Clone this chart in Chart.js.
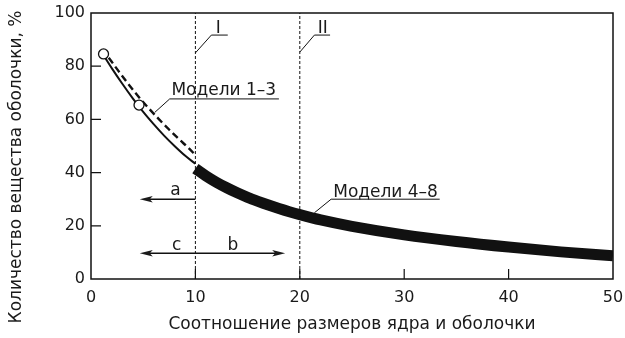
<!DOCTYPE html>
<html>
<head>
<meta charset="utf-8">
<script src="https://cdn.jsdelivr.net/npm/chart.js@4"></script>
<style>
  html, body { margin: 0; padding: 0; background: #fff; }
  #wrap { width: 625px; height: 338px; }
</style>
</head>
<body>
<div id="wrap"><canvas id="c"></canvas></div>
<script>
// Axis ticks
const xTicks = [0, 10, 20, 30, 40, 50];
const yTicks = [0, 20, 40, 60, 80, 100];

// Models 4–8: thick curve
const thickX = [10, 11, 12, 13, 14, 15, 16, 17, 18, 19, 20, 22, 25, 30, 35, 40, 45, 50];
const thickY = [41.5, 38.8, 36.4, 34.3, 32.4, 30.7, 29.2, 27.8, 26.5, 25.3, 24.2, 22.2, 19.8, 16.6, 14.1, 12.0, 10.2, 8.7];

// Models 1–3: solid and dashed curves
const solidX = [1.3, 2, 3, 4, 5, 6, 7, 8, 9, 10];
const solidY = [83.5, 79.2, 73.4, 67.9, 62.8, 58.2, 53.9, 50.0, 46.4, 43.3];
const dashX = [1.7, 2.5, 3.5, 4.5, 5.5, 6.5, 7.5, 8.5, 9.3, 10];
const dashY = [83.2, 78.9, 73.7, 68.8, 64.3, 60.1, 56.1, 52.3, 49.4, 46.6];

// Open circles
const markX = [1.2, 4.6];
const markY = [84.6, 65.4];

// Zone boundaries I and II
const zoneX = [10, 20];
const zoneNames = ['I', 'II'];

const xTitle = 'Соотношение размеров ядра и оболочки';
const yTitle = 'Количество вещества оболочки, %';

const FONT = "'DejaVu Sans', sans-serif";
const INK = '#111';
const TEXT = '#1a1a1a';

const pts = (xs, ys) => xs.map((v, i) => ({ x: v, y: ys[i] }));

const datasets = [
  ...zoneX.map(v => ({
    data: [{ x: v, y: yTicks[0] }, { x: v, y: yTicks[yTicks.length - 1] }],
    borderColor: INK, borderWidth: 1, borderDash: [3, 2],
    pointRadius: 0, fill: false
  })),
  {
    data: pts(thickX, thickY),
    borderColor: INK, borderWidth: 11, borderCapStyle: 'butt',
    cubicInterpolationMode: 'monotone', pointRadius: 0, fill: false
  },
  {
    data: pts(solidX, solidY),
    borderColor: INK, borderWidth: 2,
    cubicInterpolationMode: 'monotone', pointRadius: 0, fill: false
  },
  {
    data: pts(dashX, dashY),
    borderColor: INK, borderWidth: 2.4, borderDash: [7, 4],
    cubicInterpolationMode: 'monotone', pointRadius: 0, fill: false
  },
  {
    data: pts(markX, markY),
    order: -1,
    showLine: false, pointRadius: 5, pointBorderWidth: 1.3,
    pointBackgroundColor: '#fff', pointBorderColor: INK
  }
];

// Frame, inward ticks, arrows, text labels and the vertical axis title
const annotations = {
  id: 'annotations',
  afterDatasetsDraw(chart) {
    const { ctx, chartArea: a, scales: { x, y } } = chart;
    const X = v => x.getPixelForValue(v);
    const Y = v => y.getPixelForValue(v);
    ctx.save();
    ctx.strokeStyle = INK;
    ctx.fillStyle = TEXT;

    // frame
    ctx.lineWidth = 1.5;
    ctx.strokeRect(a.left, a.top, a.right - a.left, a.bottom - a.top);

    // inward tick marks
    ctx.lineWidth = 1.2;
    ctx.beginPath();
    yTicks.slice(1, -1).forEach(t => { ctx.moveTo(a.left, Y(t)); ctx.lineTo(a.left + 10, Y(t)); });
    xTicks.slice(1, -1).forEach(t => { ctx.moveTo(X(t), a.bottom); ctx.lineTo(X(t), a.bottom - 10); });
    ctx.stroke();

    const head = (px, py, dir) => {
      ctx.beginPath();
      ctx.moveTo(px, py);
      ctx.lineTo(px - dir * 13, py - 3.2);
      ctx.lineTo(px - dir * 10, py);
      ctx.lineTo(px - dir * 13, py + 3.2);
      ctx.closePath();
      ctx.fill();
    };

    // arrow a
    ctx.lineWidth = 1.4;
    ctx.beginPath();
    ctx.moveTo(X(10), Y(30)); ctx.lineTo(X(4.67) + 8, Y(30));
    ctx.stroke();
    head(X(4.67), Y(30), -1);

    // double arrow c / b
    ctx.beginPath();
    ctx.moveTo(X(4.67) + 8, Y(9.7)); ctx.lineTo(X(18.6) - 8, Y(9.7));
    ctx.stroke();
    head(X(4.67), Y(9.7), -1);
    head(X(18.6), Y(9.7), 1);

    // leader lines with underlines
    ctx.lineWidth = 1;
    const leader = (x0, y0, x1, y1, x2) => {
      ctx.beginPath();
      ctx.moveTo(X(x0), Y(y0)); ctx.lineTo(X(x1), Y(y1)); ctx.lineTo(X(x2), Y(y1));
      ctx.stroke();
    };
    leader(zoneX[0], 85, 11.53, 91.7, 13.1);
    leader(zoneX[1], 85.3, 21.4, 91.7, 22.9);
    leader(6.1, 62.6, 7.54, 67.7, 18.0);
    leader(21.4, 24.9, 23.0, 30.0, 33.4);

    // texts
    ctx.font = `17px ${FONT}`;
    ctx.textBaseline = 'alphabetic';
    ctx.textAlign = 'center';
    ctx.fillText(zoneNames[0], X(12.2), Y(92.4));
    ctx.fillText(zoneNames[1], X(22.2), Y(92.4));
    ctx.fillText('a', X(8.1), Y(31.5));
    ctx.fillText('c', X(8.2), Y(11.0));
    ctx.fillText('b', X(13.6), Y(11.0));
    ctx.textAlign = 'left';
    ctx.fillText('Модели 1–3', X(7.7), Y(69.2));
    ctx.fillText('Модели 4–8', X(23.2), Y(30.9));

    // vertical axis title, centred on the canvas height
    ctx.translate(17, chart.height / 2 - 2);
    ctx.rotate(-Math.PI / 2);
    ctx.textAlign = 'center';
    ctx.textBaseline = 'middle';
    ctx.fillText(yTitle, 0, 0);
    ctx.restore();
  }
};

new Chart(document.getElementById('c'), {
  type: 'line',
  data: { datasets },
  plugins: [annotations],
  options: {
    responsive: true,
    maintainAspectRatio: false,
    animation: false,
    events: [],
    layout: { padding: { top: 13, right: 12, left: 0, bottom: 0 } },
    plugins: { legend: { display: false }, tooltip: { enabled: false } },
    scales: {
      x: {
        type: 'linear', min: xTicks[0], max: xTicks[xTicks.length - 1],
        afterBuildTicks: s => { s.ticks = xTicks.map(v => ({ value: v })); },
        afterFit: s => { s.height = 59; s.paddingLeft = 0; s.paddingRight = 0; },
        grid: { display: false, drawTicks: false },
        border: { display: false },
        ticks: { color: TEXT, font: { family: FONT, size: 16 }, padding: 9, maxRotation: 0 },
        title: {
          display: true, text: xTitle,
          color: TEXT, font: { family: FONT, size: 17 }, padding: { top: 0, bottom: 3 }
        }
      },
      y: {
        type: 'linear', min: yTicks[0], max: yTicks[yTicks.length - 1],
        afterBuildTicks: s => { s.ticks = yTicks.map(v => ({ value: v })); },
        afterFit: s => { s.width = 91; s.paddingTop = 0; s.paddingBottom = 0; },
        grid: { display: false, drawTicks: false },
        border: { display: false },
        ticks: { color: TEXT, font: { family: FONT, size: 16 }, padding: 6 },
        title: { display: false }
      }
    }
  }
});
</script>
</body>
</html>
